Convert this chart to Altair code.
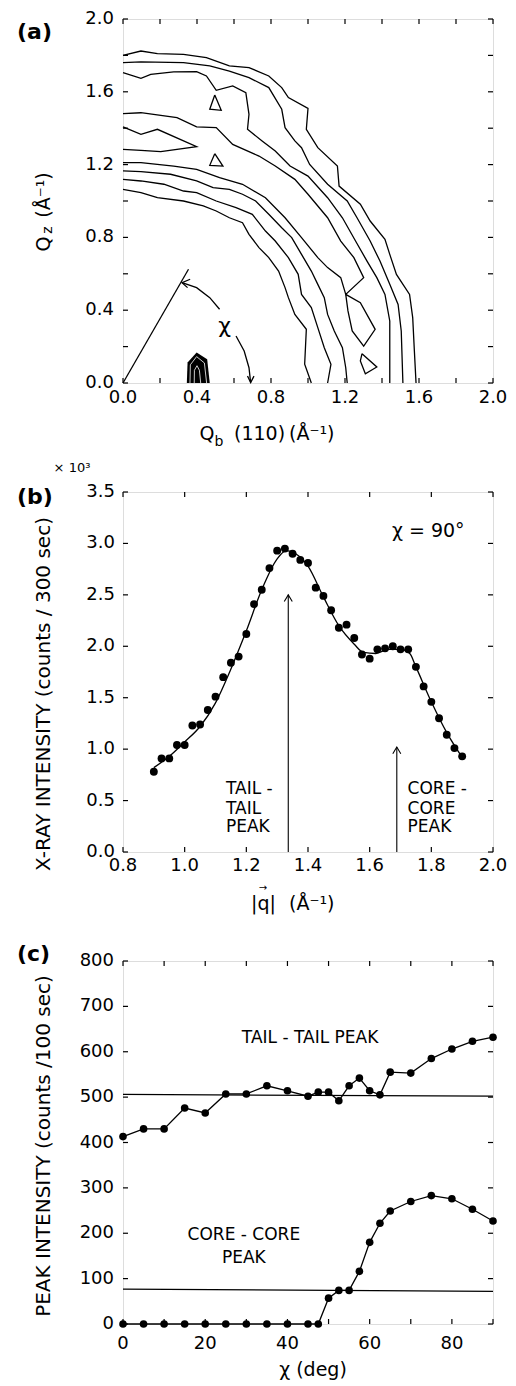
import altair as alt
import pandas as pd

FONT = "DejaVu Sans"
LW = 1.3

# ---------------- Panel (a): contour lines (Qb, Qz in 1/Å) ----------------
a_l1_qb = [0.0, 0.097, 0.186, 0.327, 0.451, 0.575, 0.681, 0.788, 0.858, 0.894, 1.0, 0.991, 1.053, 1.159, 1.168, 1.283, 1.336, 1.416, 1.442, 1.478, 1.549, 1.566, 1.575, 1.584]
a_l1_qz = [1.80, 1.824, 1.81, 1.806, 1.788, 1.742, 1.733, 1.687, 1.623, 1.568, 1.509, 1.394, 1.293, 1.192, 1.082, 0.982, 0.89, 0.789, 0.707, 0.597, 0.487, 0.359, 0.176, 0.0]
a_l2_qb = [0.0, 0.097, 0.327, 0.469, 0.575, 0.681, 0.788, 0.858, 0.876, 0.929, 0.965, 1.009, 1.106, 1.212, 1.265, 1.336, 1.389, 1.442, 1.487, 1.504, 1.513]
a_l2_qz = [1.76, 1.764, 1.76, 1.742, 1.714, 1.678, 1.623, 1.504, 1.403, 1.33, 1.293, 1.201, 1.092, 1.0, 0.908, 0.78, 0.67, 0.542, 0.432, 0.286, 0.0]
a_l3_qb = [0.0, 0.097, 0.150, 0.274, 0.398, 0.451, 0.504, 0.593, 0.664, 0.681, 0.673, 0.752, 0.823, 0.903, 1.0, 1.106, 1.186, 1.257, 1.319, 1.372, 1.416, 1.442, 1.442]
a_l3_qz = [1.705, 1.674, 1.696, 1.709, 1.711, 1.687, 1.608, 1.632, 1.595, 1.476, 1.394, 1.33, 1.275, 1.192, 1.137, 1.018, 0.908, 0.78, 0.67, 0.579, 0.487, 0.341, 0.0]
a_u_qb = [0.0, 0.097, 0.292, 0.398, 0.504, 0.593, 0.735, 0.823, 0.929, 1.0, 1.106, 1.177, 1.248, 1.301, 1.204, 1.177, 1.106, 1.053, 0.965, 0.876, 0.770, 0.646, 0.522, 0.398, 0.274, 0.097, 0.0]
a_u_qz = [1.48, 1.485, 1.458, 1.407, 1.403, 1.311, 1.247, 1.192, 1.119, 1.037, 0.908, 0.78, 0.689, 0.579, 0.487, 0.579, 0.634, 0.689, 0.799, 0.908, 1.018, 1.092, 1.128, 1.174, 1.192, 1.211, 1.211]
a_dia_qb = [1.204, 1.283, 1.363, 1.301, 1.239, 1.216, 1.204]
a_dia_qz = [0.487, 0.441, 0.295, 0.203, 0.286, 0.396, 0.487]
a_i1_qb = [0.0, 0.097, 0.257, 0.398, 0.487, 0.575, 0.646, 0.717, 0.788, 0.858, 0.912, 0.965, 1.018, 1.053, 1.088, 1.106, 1.142, 1.186, 1.204, 1.212]
a_i1_qz = [1.165, 1.161, 1.147, 1.11, 1.073, 1.064, 1.037, 1.0, 0.927, 0.853, 0.799, 0.707, 0.615, 0.542, 0.469, 0.377, 0.286, 0.194, 0.084, 0.0]
a_i2_qb = [0.0, 0.097, 0.221, 0.327, 0.398, 0.504, 0.611, 0.699, 0.770, 0.823, 0.894, 0.947, 0.965, 1.018, 1.053, 1.088, 1.124, 1.106]
a_i2_qz = [1.119, 1.11, 1.092, 1.055, 1.046, 1.0, 0.963, 0.927, 0.835, 0.78, 0.689, 0.597, 0.487, 0.414, 0.304, 0.194, 0.103, 0.0]
a_i3_qb = [0.0, 0.097, 0.186, 0.327, 0.434, 0.504, 0.575, 0.646, 0.681, 0.735, 0.788, 0.841, 0.876, 0.894, 0.929, 0.991, 0.982, 1.018]
a_i3_qz = [1.064, 1.046, 1.018, 1.0, 0.973, 0.945, 0.908, 0.881, 0.817, 0.744, 0.689, 0.615, 0.524, 0.469, 0.377, 0.295, 0.103, 0.0]
a_tg_qb = [0.0, 0.097, 0.186, 0.398, 0.204, 0.097, 0.0]
a_tg_qz = [1.407, 1.366, 1.394, 1.299, 1.271, 1.278, 1.284]
a_t1_qb = [0.496, 0.531, 0.469, 0.496]
a_t1_qz = [1.582, 1.498, 1.504, 1.582]
a_t2_qb = [0.496, 0.54, 0.469, 0.496]
a_t2_qz = [1.26, 1.192, 1.196, 1.26]
a_t3_qb = [1.292, 1.372, 1.31, 1.283, 1.292]
a_t3_qz = [0.161, 0.088, 0.051, 0.121, 0.161]
# small peak near Qb = 0.4
a_blob_qb = [0.345, 0.349, 0.398, 0.455, 0.469]
a_blob_qz = [0.0, 0.112, 0.167, 0.13, 0.0]
a_b2_qb = [0.362, 0.364, 0.398, 0.44, 0.452]
a_b2_qz = [0.0, 0.10, 0.145, 0.11, 0.0]
a_b3_qb = [0.385, 0.386, 0.400, 0.413, 0.42]
a_b3_qz = [0.0, 0.07, 0.095, 0.07, 0.0]
# chi construction
a_chi_line_qb = [0.0, 0.354]
a_chi_line_qz = [0.0, 0.625]
a_arc1_qb = [0.319, 0.398, 0.469, 0.522]
a_arc1_qz = [0.551, 0.524, 0.469, 0.405]
a_arc2_qb = [0.611, 0.655, 0.681, 0.69]
a_arc2_qz = [0.258, 0.176, 0.084, 0.002]
a_head1_qb = [0.363, 0.319, 0.349]
a_head1_qz = [0.57, 0.551, 0.524]
a_head2_qb = [0.673, 0.69, 0.708]
a_head2_qz = [0.038, 0.002, 0.038]

a_ticks = [0.0, 0.2, 0.4, 0.6, 0.8, 1.0, 1.2, 1.4, 1.6, 1.8, 2.0]
a_label_vals = [0.0, 0.4, 0.8, 1.2, 1.6, 2.0]
a_label_txt = ["0.0", "0.4", "0.8", "1.2", "1.6", "2.0"]

# ---------------- Panel (b): chi = 90 scan ----------------
b_q = [0.900, 0.925, 0.950, 0.975, 1.000, 1.025, 1.050, 1.075, 1.100, 1.125, 1.150, 1.175,
       1.200, 1.225, 1.250, 1.275, 1.300, 1.325, 1.350, 1.375, 1.400, 1.425, 1.450, 1.475,
       1.500, 1.525, 1.550, 1.575, 1.600, 1.625, 1.650, 1.675, 1.700, 1.725, 1.750, 1.775,
       1.800, 1.825, 1.850, 1.875, 1.900]
b_int = [0.78, 0.91, 0.91, 1.04, 1.04, 1.23, 1.24, 1.38, 1.51, 1.70, 1.84, 1.90,
         2.12, 2.41, 2.55, 2.76, 2.93, 2.95, 2.90, 2.84, 2.81, 2.57, 2.49, 2.35,
         2.18, 2.21, 2.08, 1.92, 1.88, 1.97, 1.98, 2.00, 1.97, 1.97, 1.80, 1.61,
         1.46, 1.30, 1.14, 1.01, 0.93]
b_fit_q = [0.90, 0.95, 1.00, 1.05, 1.10, 1.15, 1.20, 1.25, 1.30, 1.33, 1.36, 1.40, 1.45, 1.50,
           1.55, 1.58, 1.62, 1.66, 1.70, 1.73, 1.75, 1.80, 1.85, 1.90]
b_fit_i = [0.82, 0.93, 1.07, 1.22, 1.45, 1.78, 2.15, 2.55, 2.85, 2.93, 2.90, 2.78, 2.48, 2.20,
           2.02, 1.94, 1.93, 1.97, 1.97, 1.93, 1.80, 1.46, 1.16, 0.92]
b_arrow_tail_q = [1.336, 1.336]
b_arrow_tail_i = [0.0, 2.50]
b_head_tail_q = [1.323, 1.336, 1.349]
b_head_tail_i = [2.435, 2.50, 2.435]
b_arrow_core_q = [1.688, 1.688]
b_arrow_core_i = [0.0, 1.02]
b_head_core_q = [1.675, 1.688, 1.701]
b_head_core_i = [0.955, 1.02, 0.955]
b_xticks = [0.8, 1.0, 1.2, 1.4, 1.6, 1.8, 2.0]
b_xlabel_txt = ["0.8", "1.0", "1.2", "1.4", "1.6", "1.8", "2.0"]
b_yticks = [0.0, 0.5, 1.0, 1.5, 2.0, 2.5, 3.0, 3.5]
b_ylabel_txt = ["0.0", "0.5", "1.0", "1.5", "2.0", "2.5", "3.0", "3.5"]

# ---------------- Panel (c): peak intensity vs chi ----------------
c_chi = [0, 5, 10, 15, 20, 25, 30, 35, 40, 45, 47.5, 50, 52.5, 55, 57.5, 60, 62.5, 65, 70, 75, 80, 85, 90]
c_tail = [413, 430, 430, 476, 465, 507, 507, 525, 514, 502, 511, 511, 492, 525, 542, 514, 505, 555, 553, 585, 606, 623, 632]
c_core = [0, 0, 0, 0, 0, 0, 0, 0, 0, 0, 0, 57, 74, 74, 116, 180, 222, 249, 270, 283, 276, 253, 227]
c_ref_chi = [0, 90]
c_ref_tail = [506, 502]
c_ref_core = [77, 72]
c_xticks = [0, 10, 20, 30, 40, 50, 60, 70, 80, 90]
c_xlabel_vals = [0, 20, 40, 60, 80]
c_xlabel_txt = ["0", "20", "40", "60", "80"]
c_yticks = [0, 100, 200, 300, 400, 500, 600, 700, 800]
c_ylabel_txt = ["0", "100", "200", "300", "400", "500", "600", "700", "800"]

W = 370
HA, HB, HC = 364, 360, 363
TICK = 5
LBL = 18


def paths(items):
    rows = []
    for name, xs, ys in items:
        for i, (x, y) in enumerate(zip(xs, ys)):
            rows.append({"g": name, "x": x, "y": y, "o": i})
    return pd.DataFrame(rows)


def frame_ticks(xv, yv, xs, ys, H):
    xd = pd.DataFrame({"v": xv})
    yd = pd.DataFrame({"v": yv})
    st = dict(color="black", strokeWidth=1.2)
    return [
        alt.Chart(xd).mark_rule(**st).encode(x=alt.X("v:Q", scale=xs, axis=None), y=alt.value(H), y2=alt.value(H - TICK)),
        alt.Chart(xd).mark_rule(**st).encode(x=alt.X("v:Q", scale=xs, axis=None), y=alt.value(0), y2=alt.value(TICK)),
        alt.Chart(yd).mark_rule(**st).encode(y=alt.Y("v:Q", scale=ys, axis=None), x=alt.value(0), x2=alt.value(TICK)),
        alt.Chart(yd).mark_rule(**st).encode(y=alt.Y("v:Q", scale=ys, axis=None), x=alt.value(W), x2=alt.value(W - TICK)),
    ]


def tick_labels(xv, xt, yv, yt, xs, ys, H, xoff, yoff):
    xl = alt.Chart(pd.DataFrame({"v": xv, "t": xt})).mark_text(
        font=FONT, fontSize=LBL, align="center", baseline="middle", color="black").encode(
        x=alt.X("v:Q", scale=xs, axis=None), y=alt.value(H + yoff), text="t:N")
    yl = alt.Chart(pd.DataFrame({"v": yv, "t": yt})).mark_text(
        font=FONT, fontSize=LBL, align="right", baseline="middle", color="black").encode(
        y=alt.Y("v:Q", scale=ys, axis=None), x=alt.value(-xoff), text="t:N")
    return [xl, yl]


def ptext(txt, x, y, size, align="center", weight="normal", angle=0):
    return alt.Chart(pd.DataFrame({"t": [txt]})).mark_text(
        font=FONT, fontSize=size, fontWeight=weight, align=align, baseline="middle",
        angle=angle, color="black").encode(text="t:N", x=alt.value(x), y=alt.value(y))


def dtext(txts, xs, ys, xsc, ysc, size, align="center"):
    df = pd.DataFrame({"t": txts, "x": xs, "y": ys})
    return alt.Chart(df).mark_text(font=FONT, fontSize=size, align=align, baseline="middle",
                                   color="black").encode(
        x=alt.X("x:Q", scale=xsc, axis=None), y=alt.Y("y:Q", scale=ysc, axis=None), text="t:N")


# ---------------- build panel (a) ----------------
xa = alt.Scale(domain=[0, 2], nice=False, zero=False)
ya = alt.Scale(domain=[0, 2], nice=False, zero=False)

dfA = paths([
    ("l1", a_l1_qb, a_l1_qz), ("l2", a_l2_qb, a_l2_qz), ("l3", a_l3_qb, a_l3_qz),
    ("u", a_u_qb, a_u_qz), ("dia", a_dia_qb, a_dia_qz), ("i1", a_i1_qb, a_i1_qz),
    ("i2", a_i2_qb, a_i2_qz), ("i3", a_i3_qb, a_i3_qz), ("tg", a_tg_qb, a_tg_qz),
    ("t1", a_t1_qb, a_t1_qz), ("t2", a_t2_qb, a_t2_qz), ("t3", a_t3_qb, a_t3_qz),
    ("cl", a_chi_line_qb, a_chi_line_qz), ("arc1", a_arc1_qb, a_arc1_qz),
    ("arc2", a_arc2_qb, a_arc2_qz), ("h1", a_head1_qb, a_head1_qz), ("h2", a_head2_qb, a_head2_qz),
])
contA = alt.Chart(dfA).mark_line(color="black", strokeWidth=LW).encode(
    x=alt.X("x:Q", scale=xa, axis=None),
    y=alt.Y("y:Q", scale=ya, axis=None),
    detail="g:N", order="o:Q")
blobA = alt.Chart(pd.DataFrame({"x": a_blob_qb, "y": a_blob_qz})).mark_area(
    color="black", interpolate="linear").encode(
    x=alt.X("x:Q", scale=xa, axis=None), y=alt.Y("y:Q", scale=ya, axis=None))
blobLines = alt.Chart(paths([("b2", a_b2_qb, a_b2_qz), ("b3", a_b3_qb, a_b3_qz)])).mark_line(
    color="white", strokeWidth=0.8).encode(
    x=alt.X("x:Q", scale=xa, axis=None), y=alt.Y("y:Q", scale=ya, axis=None),
    detail="g:N", order="o:Q")
chiA = dtext(["χ"], [0.549], [0.313], xa, ya, 22)

panelA = alt.layer(
    contA, blobA, blobLines, chiA, *frame_ticks(a_ticks, a_ticks, xa, ya, HA),
    *tick_labels(a_label_vals, a_label_txt, a_label_vals, a_label_txt, xa, ya, HA, 9, 15),
    ptext("(a)", -106, 13, 22, align="left", weight="bold"),
    ptext("Q", -79, 225, 19, angle=270),
    ptext("z", -75, 211, 14, angle=270),
    ptext("(Å⁻¹)", -79, 176, 19, angle=270),
    ptext("Q", 84, 415, 19),
    ptext("b", 96, 423, 14),
    ptext("(110)", 111, 415, 19, align="left"),
    ptext("(Å⁻¹)", 166, 415, 19, align="left"),
).properties(width=W, height=HA)

# ---------------- build panel (b) ----------------
xb = alt.Scale(domain=[0.8, 2.0], nice=False, zero=False)
yb = alt.Scale(domain=[0, 3.5], nice=False, zero=False)

ptsB = alt.Chart(pd.DataFrame({"q": b_q, "i": b_int})).mark_circle(color="black", size=62, opacity=1).encode(
    x=alt.X("q:Q", scale=xb, axis=None),
    y=alt.Y("i:Q", scale=yb, axis=None))
fitB = alt.Chart(pd.DataFrame({"q": b_fit_q, "i": b_fit_i})).mark_line(
    color="black", strokeWidth=LW, interpolate="monotone").encode(
    x=alt.X("q:Q", scale=xb, axis=None), y=alt.Y("i:Q", scale=yb, axis=None))
arrB = alt.Chart(paths([
    ("at", b_arrow_tail_q, b_arrow_tail_i), ("ht", b_head_tail_q, b_head_tail_i),
    ("ac", b_arrow_core_q, b_arrow_core_i), ("hc", b_head_core_q, b_head_core_i)])).mark_line(
    color="black", strokeWidth=1.1).encode(
    x=alt.X("x:Q", scale=xb, axis=None), y=alt.Y("y:Q", scale=yb, axis=None),
    detail="g:N", order="o:Q")
txtB_l = dtext(["TAIL -", "TAIL", "PEAK", "CORE -", "CORE", "PEAK"],
               [1.134, 1.134, 1.134, 1.723, 1.723, 1.723],
               [0.615, 0.42, 0.243, 0.615, 0.42, 0.243], xb, yb, 17, align="left")
txtB_chi = dtext(["χ = 90°"], [1.79], [3.12], xb, yb, 19)

panelB = alt.layer(
    fitB, ptsB, arrB, txtB_l, txtB_chi, *frame_ticks(b_xticks, b_yticks, xb, yb, HB),
    *tick_labels(b_xticks, b_xlabel_txt, b_yticks, b_ylabel_txt, xb, yb, HB, 8, 14),
    ptext("(b)", -106, 5, 22, align="left", weight="bold"),
    ptext("× 10³", -51, -24, 13),
    ptext("X-RAY INTENSITY (counts / 300 sec)", -79, 202, 20, angle=270),
    ptext("|q|", 128, 412, 19, align="left"),
    ptext("→", 140, 396, 10),
    ptext("(Å⁻¹)", 166, 412, 19, align="left"),
).properties(width=W, height=HB)

# ---------------- build panel (c) ----------------
xc = alt.Scale(domain=[0, 90], nice=False, zero=False)
yc = alt.Scale(domain=[0, 800], nice=False, zero=False)

dfC = pd.DataFrame({"chi": c_chi * 2, "v": c_tail + c_core,
                    "s": ["tail"] * len(c_chi) + ["core"] * len(c_chi)})
lineC = alt.Chart(dfC).mark_line(color="black", strokeWidth=LW).encode(
    x=alt.X("chi:Q", scale=xc, axis=None),
    y=alt.Y("v:Q", scale=yc, axis=None),
    detail="s:N")
ptsC = alt.Chart(dfC).mark_circle(color="black", size=58, opacity=1).encode(
    x=alt.X("chi:Q", scale=xc, axis=None), y=alt.Y("v:Q", scale=yc, axis=None))
refC = alt.Chart(paths([("rt", c_ref_chi, c_ref_tail), ("rc", c_ref_chi, c_ref_core)])).mark_line(
    color="black", strokeWidth=1.2).encode(
    x=alt.X("x:Q", scale=xc, axis=None), y=alt.Y("y:Q", scale=yc, axis=None),
    detail="g:N", order="o:Q")
txtC = dtext(["TAIL - TAIL PEAK", "CORE - CORE", "PEAK"], [45.5, 29.4, 29.4], [630, 196, 146],
             xc, yc, 17)

panelC = alt.layer(
    refC, lineC, ptsC, txtC, *frame_ticks(c_xticks, c_yticks, xc, yc, HC),
    *tick_labels(c_xlabel_vals, c_xlabel_txt, c_yticks, c_ylabel_txt, xc, yc, HC, 9, 20),
    ptext("(c)", -106, -7, 22, align="left", weight="bold"),
    ptext("PEAK INTENSITY (counts /100 sec)", -79, 185, 20, angle=270),
    ptext("χ (deg)", 190, 409, 19),
).properties(width=W, height=HC)

chart = alt.vconcat(panelA, panelB, panelC, spacing=109, bounds="flush").properties(
    padding={"left": 8, "top": 1, "right": 0, "bottom": 0}
).configure_view(stroke="black", strokeWidth=1.3).configure(background="white")

chart.save("out.html", embed_options={"renderer": "svg", "actions": False})
